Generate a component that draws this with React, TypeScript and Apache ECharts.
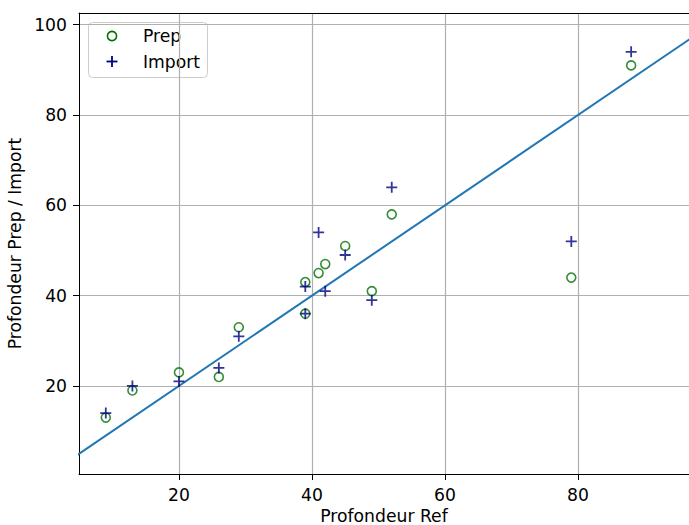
import React, { useEffect, useRef } from "react";
import * as echarts from "echarts";

// Depth pairs: reference depth vs. prepared / imported depth
const refDepth = [9, 13, 20, 26, 29, 39, 39, 41, 42, 45, 49, 52, 79, 88];
const prepDepth = [13, 19, 23, 22, 33, 43, 36, 45, 47, 51, 41, 58, 44, 91];
const importDepth = [14, 20, 21, 24, 31, 42, 36, 54, 41, 49, 39, 64, 52, 94];

// Identity line y = x (clipped to the plot area)
const identityLine = [0, 100];

const xTicks = [20, 40, 60, 80];
const yTicks = [20, 40, 60, 80, 100];

const FONT = "DejaVu Sans";
const FS = 17.2;
const PREP_COLOR = "#007000";
const IMPORT_COLOR = "#00007f";

export default function App() {
  const ref = useRef<HTMLDivElement>(null);

  useEffect(() => {
    if (!ref.current) return;
    const chart = echarts.init(ref.current, undefined, { renderer: "svg" });

    const pairs = (ys: number[]) => refDepth.map((x, i) => [x, ys[i]]);
    const plusPath = "path://M0,5L10,5M5,0L5,10";

    // Boxed key in the upper-left corner of the plot
    const keyText = (text: string, y: number) => ({
      type: "text",
      x: 55,
      y,
      style: {
        text,
        fill: "#000",
        font: `${FS}px "${FONT}"`,
        verticalAlign: "middle",
        align: "left",
      },
    });
    const key = {
      type: "group",
      left: 88,
      top: 22,
      z: 100,
      children: [
        {
          type: "rect",
          shape: { x: 0.5, y: 0.5, width: 119, height: 55, r: 4 },
          style: { fill: "rgba(255,255,255,0.8)", stroke: "#cccccc", lineWidth: 1 },
        },
        {
          type: "circle",
          shape: { cx: 24, cy: 14, r: 4.6 },
          style: { fill: "none", stroke: PREP_COLOR, lineWidth: 1.6 },
        },
        keyText("Prep", 14),
        {
          type: "line",
          shape: { x1: 18.5, y1: 39.5, x2: 29.5, y2: 39.5 },
          style: { stroke: IMPORT_COLOR, lineWidth: 1.8 },
        },
        {
          type: "line",
          shape: { x1: 24, y1: 34, x2: 24, y2: 45 },
          style: { stroke: IMPORT_COLOR, lineWidth: 1.8 },
        },
        keyText("Import", 39.5),
      ],
    };

    chart.setOption({
      animation: false,
      backgroundColor: "#fff",
      textStyle: { fontFamily: FONT },
      grid: {
        left: 79,
        right: 0,
        top: 13,
        bottom: 51,
        containLabel: false,
        outerBoundsMode: "none",
      },
      xAxis: [
        {
          type: "value",
          min: 4.97,
          max: 96.7,
          name: "Profondeur Ref",
          nameLocation: "middle",
          nameGap: 33,
          nameTextStyle: { color: "#000", fontSize: FS, fontFamily: FONT },
          axisLine: { show: true, onZero: false, lineStyle: { color: "#000", width: 1 } },
          axisTick: { show: true, length: 6, customValues: xTicks, lineStyle: { color: "#000" } },
          axisLabel: { customValues: xTicks, margin: 12, color: "#000", fontSize: FS, fontFamily: FONT },
          splitLine: { show: true, lineStyle: { color: "#b0b0b0", width: 1.2 } },
        },
        {
          type: "value",
          position: "top",
          min: 4.97,
          max: 96.7,
          axisLine: { show: true, onZero: false, lineStyle: { color: "#000", width: 1 } },
          axisTick: { show: false },
          axisLabel: { show: false },
          splitLine: { show: false },
        },
      ],
      yAxis: {
        type: "value",
        min: 0.5,
        max: 102.6,
        name: "Profondeur Prep / Import",
        nameLocation: "middle",
        nameGap: 51,
        nameTextStyle: { color: "#000", fontSize: FS, fontFamily: FONT },
        axisLine: { show: true, onZero: false, lineStyle: { color: "#000", width: 1 } },
        axisTick: { show: true, length: 6, customValues: yTicks, lineStyle: { color: "#000" } },
        axisLabel: { customValues: yTicks, margin: 12, color: "#000", fontSize: FS, fontFamily: FONT },
        splitLine: { show: true, lineStyle: { color: "#b0b0b0", width: 1.2 } },
      },
      graphic: [key],
      series: [
        {
          name: "y = x",
          type: "line",
          data: identityLine.map((v) => [v, v]),
          symbol: "none",
          clip: true,
          lineStyle: { color: "#1f77b4", width: 2 },
          z: 1,
        },
        {
          name: "Prep",
          type: "scatter",
          data: pairs(prepDepth),
          symbol: "circle",
          symbolSize: 9,
          itemStyle: { color: "rgba(0,0,0,0)", borderColor: PREP_COLOR, borderWidth: 1.6 },
          z: 2,
        },
        {
          name: "Import",
          type: "scatter",
          data: pairs(importDepth),
          symbol: plusPath,
          symbolSize: 11,
          itemStyle: { color: "rgba(0,0,0,0)", borderColor: IMPORT_COLOR, borderWidth: 1.8 },
          z: 3,
        },
      ],
    });

    return () => chart.dispose();
  }, []);

  return (
    <div
      ref={ref}
      style={{ position: "fixed", left: 0, top: 0, width: 689, height: 525 }}
    />
  );
}
